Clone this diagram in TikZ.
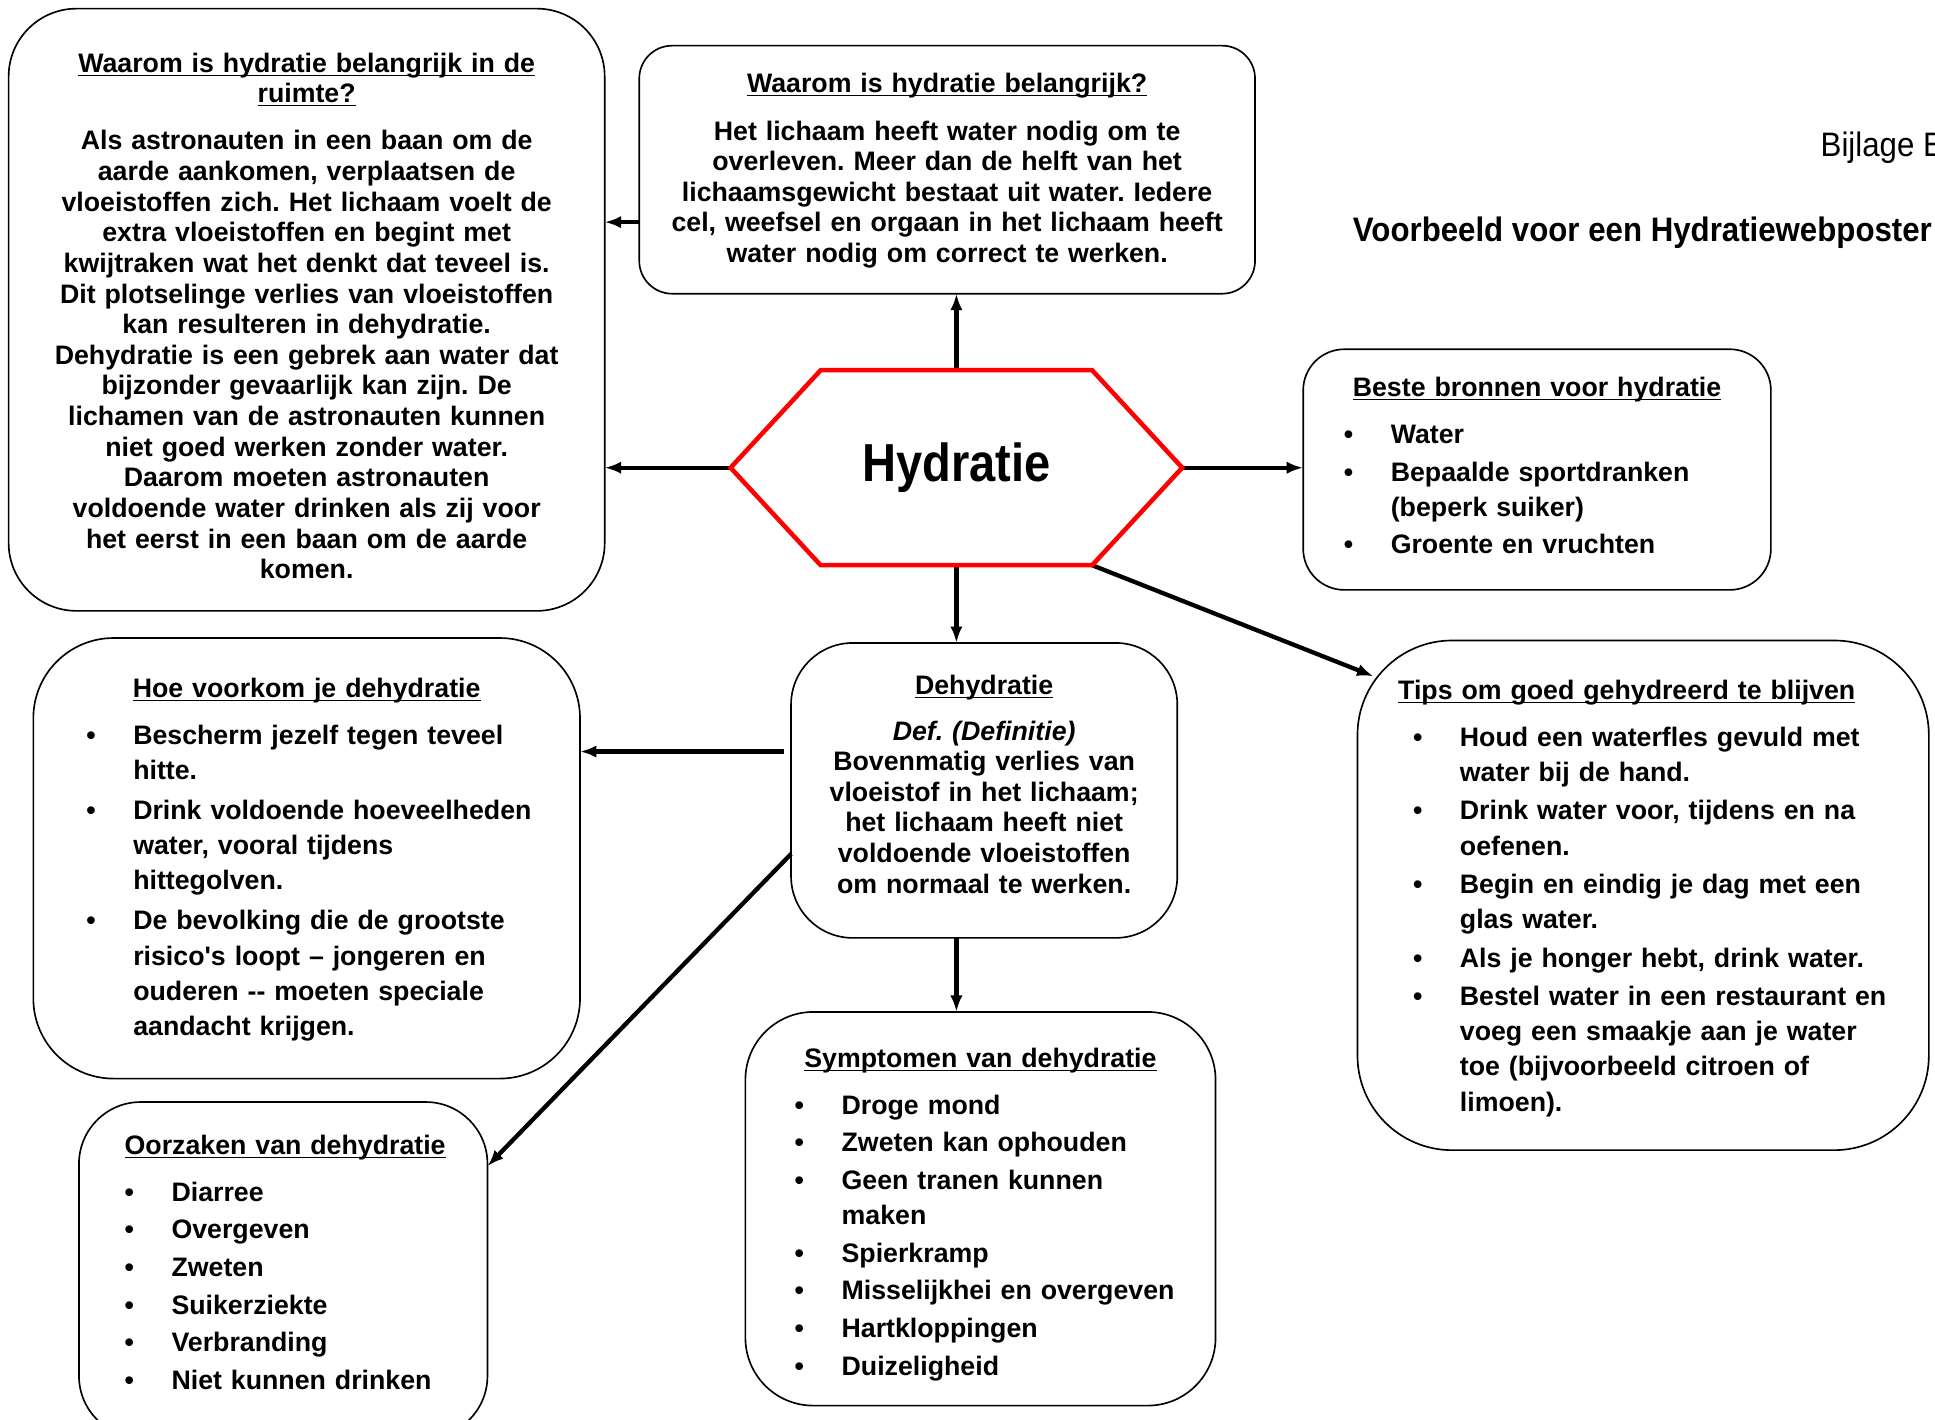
\documentclass[tikz,border=0pt]{standalone}
\usepackage{fontspec}
\setmainfont{Liberation Sans}
\newfontfamily\smalfont[FakeStretch=0.88]{Liberation Sans}
\newfontfamily\kopfont[FakeStretch=0.92]{Liberation Sans}
\usetikzlibrary{arrows.meta}
\frenchspacing
\newcommand{\kop}[1]{\underline{\smash{#1}}}
\newcommand{\kopregel}[2][0pt]{{\centering\hspace*{#1}\kop{#2}\par}\vspace{5.7pt}\noindent}
\begin{document}
\begin{tikzpicture}[x=0.6pt, y=-0.6pt,
	vak/.style={draw, line width=0.8pt, rounded corners=#1, outer sep=0pt, align=center, font=\bfseries\fontsize{13}{14.9}\selectfont},
	lijst/.style={vak=#1, align=left, font=\bfseries\fontsize{13}{17.1}\selectfont},
	zak/.style={execute at begin node={\rule{0pt}{#1}}},
	pijl/.style={-{Latex[length=8pt,width=6pt]}, line width=2.1pt}]
	\useasboundingbox (0,0) rectangle (1568,1150);

	\node[anchor=base west, inner sep=0pt, font=\kopfont\fontsize{16.5}{20}\selectfont] (bijlage) at (1475,127) {Bijlage E};
	\node[anchor=base west, inner sep=0pt, font=\kopfont\bfseries\fontsize{16.5}{20}\selectfont] (poster) at (1096,196) {Voorbeeld voor een Hydratiewebposter};

	\node[inner sep=0pt, outer sep=0pt, minimum width=219.6pt, minimum height=94.8pt, font=\smalfont\bfseries\fontsize{26}{30}\selectfont] (hx) at (775,379) {Hydratie};

	\node[vak=33pt, zak=15.4pt, minimum height=292.8pt, text width=259.8pt, inner xsep=15pt] (ruimte) at (248.5,251) {\kop{Waarom is hydratie belangrijk in de}\\ \kop{ruimte?}\\[8pt]
		Als astronauten in een baan om de\\ aarde aankomen, verplaatsen de\\ vloeistoffen zich. Het lichaam voelt de\\ extra vloeistoffen en begint met\\ kwijtraken wat het denkt dat teveel is.\\ Dit plotselinge verlies van vloeistoffen\\ kan resulteren in dehydratie.\\ Dehydratie is een gebrek aan water dat\\ bijzonder gevaarlijk kan zijn. De\\ lichamen van de astronauten kunnen\\ niet goed werken zonder water.\\ Daarom moeten astronauten\\ voldoende water drinken als zij voor\\ het eerst in een baan om de aarde\\ komen.};

	\node[vak=16pt, zak=10.6pt, minimum height=120.6pt, text width=279.4pt, inner xsep=10pt] (belang) at (767.5,137.5) {\kop{Waarom is hydratie belangrijk?}\\[8pt]
		Het lichaam heeft water nodig om te\\ overleven. Meer dan de helft van het\\ lichaamsgewicht bestaat uit water. Iedere\\ cel, weefsel en orgaan in het lichaam heeft\\ water nodig om correct te werken.};

	\node[lijst=20pt, zak=10.6pt, minimum height=117pt, text width=187.8pt, inner xsep=19.8pt] (bronnen) at (1245.5,380.5) {\kopregel{Beste bronnen voor hydratie}%
		\begin{tabular}[t]{@{}p{22.8pt}@{}l@{}}
			\textbullet & Water\\[1.2pt]
			\textbullet & Bepaalde sportdranken\\
			& (beperk suiker)\\[1.2pt]
			\textbullet & Groente en vruchten
		\end{tabular}};

	\node[lijst=46pt, zak=14.8pt, minimum height=247.8pt, text width=223.8pt, inner xsep=27pt] (tips) at (1331.5,725.5) {\kopregel[-16pt]{Tips om goed gehydreerd te blijven}%
		\begin{tabular}[t]{@{}p{22.8pt}@{}l@{}}
			\textbullet & Houd een waterfles gevuld met\\
			& water bij de hand.\\[1.6pt]
			\textbullet & Drink water voor, tijdens en na\\
			& oefenen.\\[1.6pt]
			\textbullet & Begin en eindig je dag met een\\
			& glas water.\\[1.6pt]
			\textbullet & Als je honger hebt, drink water.\\[1.6pt]
			\textbullet & Bestel water in een restaurant en\\
			& voeg een smaakje aan je water\\
			& toe (bijvoorbeeld citroen of\\
			& limoen).
		\end{tabular}};

	\node[lijst=39pt, zak=13pt, minimum height=214.2pt, text width=214.2pt, inner xsep=25.8pt] (voorkom) at (248.5,695.5) {\kopregel{Hoe voorkom je dehydratie}%
		\begin{tabular}[t]{@{}p{22.8pt}@{}l@{}}
			\textbullet & Bescherm jezelf tegen teveel\\
			& hitte.\\[2.4pt]
			\textbullet & Drink voldoende hoeveelheden\\
			& water, vooral tijdens\\
			& hittegolven.\\[2.4pt]
			\textbullet & De bevolking die de grootste\\
			& risico\textquotesingle s loopt – jongeren en\\
			& ouderen -{}- moeten speciale\\
			& aandacht krijgen.
		\end{tabular}};

	\node[vak=30pt, zak=3.4pt, minimum height=143.4pt, text width=157.8pt, inner xsep=15pt] (dehyd) at (797.5,640.5) {\kop{Dehydratie}\\[7.3pt]
		\textit{Def. (Definitie)}\\ Bovenmatig verlies van\\ vloeistof in het lichaam;\\ het lichaam heeft niet\\ voldoende vloeistoffen\\ om normaal te werken.};

	\node[lijst=33pt, zak=17.2pt, minimum height=191.4pt, text width=180.6pt, inner xsep=24pt] (symptoom) at (794.5,979.5) {\kopregel{Symptomen van dehydratie}%
		\begin{tabular}[t]{@{}p{22.8pt}@{}l@{}}
			\textbullet & Droge mond\\[1.2pt]
			\textbullet & Zweten kan ophouden\\[1.2pt]
			\textbullet & Geen tranen kunnen\\
			& maken\\[1.2pt]
			\textbullet & Spierkramp\\[1.2pt]
			\textbullet & Misselijkhei en overgeven\\[1.2pt]
			\textbullet & Hartkloppingen\\[1.2pt]
			\textbullet & Duizeligheid
		\end{tabular}};

	\node[lijst=30pt, zak=7pt, minimum height=163.2pt, text width=154.2pt, inner xsep=22.2pt] (oorzaak) at (229.5,1029) {\kopregel{Oorzaken van dehydratie}%
		\begin{tabular}[t]{@{}p{22.8pt}@{}l@{}}
			\textbullet & Diarree\\[1.2pt]
			\textbullet & Overgeven\\[1.2pt]
			\textbullet & Zweten\\[1.2pt]
			\textbullet & Suikerziekte\\[1.2pt]
			\textbullet & Verbranding\\[1.2pt]
			\textbullet & Niet kunnen drinken
		\end{tabular}};

	\draw[pijl] (hx.north) -- (hx.north |- belang.south);
	\draw[pijl] (hx.west) -- (hx.west -| ruimte.east);
	\draw[pijl] ([yshift=-25.5pt]belang.west) -- ([yshift=-25.5pt]belang.west -| ruimte.east);
	\draw[pijl] (hx.east) -- (hx.east -| bronnen.west);
	\draw[pijl] ([xshift=-43.8pt]hx.south east) -- ([shift={(7.8pt,-17.4pt)}]tips.north west);
	\draw[pijl] (hx.south) -- (hx.south |- dehyd.north);
	\draw[pijl] ([shift={(-3.6pt,18.9pt)}]dehyd.west) -- ([yshift=18.9pt]dehyd.west -| voorkom.east);
	\draw[pijl] ([yshift=-30.9pt]dehyd.west) -- ([yshift=50.4pt]oorzaak.east);
	\draw[pijl] (dehyd.south -| hx.south) -- (symptoom.north -| hx.south);

	\draw[red, line width=2.2pt] (hx.west) -- ([xshift=43.8pt]hx.north west) -- ([xshift=-43.8pt]hx.north east) -- (hx.east) -- ([xshift=-43.8pt]hx.south east) -- ([xshift=43.8pt]hx.south west) -- cycle;
\end{tikzpicture}
\end{document}
